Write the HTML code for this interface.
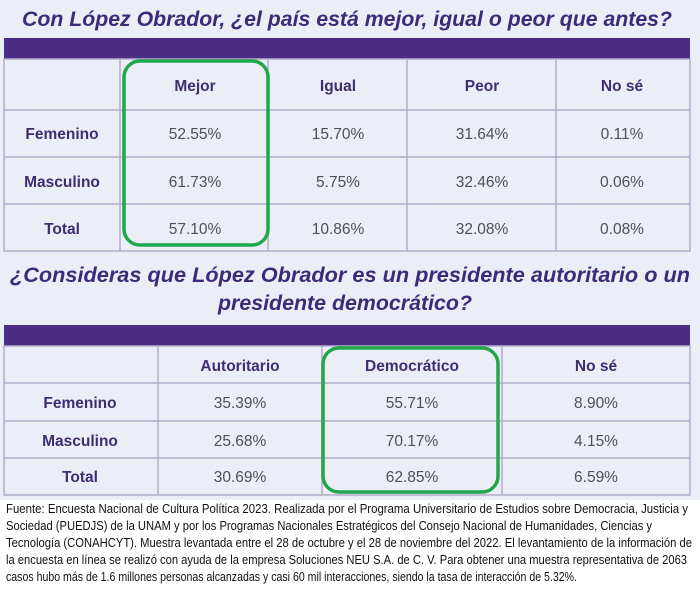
<!DOCTYPE html>
<html><head><meta charset="utf-8"><style>
html,body{margin:0;padding:0;background:#fff;}
svg{display:block;}
.t{font-family:"Liberation Sans",sans-serif;font-style:italic;font-weight:bold;fill:#3d2a78;font-size:21px;}
.h{font-family:"Liberation Sans",sans-serif;font-weight:bold;fill:#3f2d72;font-size:15.5px;text-anchor:middle;}
.v{font-family:"Liberation Sans",sans-serif;fill:#505050;font-size:15.5px;text-anchor:middle;}
.f{font-family:"Liberation Sans",sans-serif;fill:#111;font-size:12.5px;}
</style></head><body>
<svg width="700" height="593" viewBox="0 0 700 593" xmlns="http://www.w3.org/2000/svg">
<rect x="0" y="0" width="700" height="500" fill="#eceef7"/>
<rect x="0" y="500" width="700" height="93" fill="#fff"/>
<text class="t" x="22" y="26" textLength="650" lengthAdjust="spacingAndGlyphs">Con López Obrador, ¿el país está mejor, igual o peor que antes?</text>
<rect x="4" y="38" width="686" height="21" fill="#4b2d86"/>
<g stroke="#b3abc9" stroke-width="1.5" fill="none">
<rect x="4" y="59" width="686" height="192"/>
<line x1="4" y1="110" x2="690" y2="110"/><line x1="4" y1="157" x2="690" y2="157"/><line x1="4" y1="204" x2="690" y2="204"/>
<line x1="120" y1="59" x2="120" y2="251"/><line x1="268" y1="59" x2="268" y2="251"/><line x1="407" y1="59" x2="407" y2="251"/><line x1="556" y1="59" x2="556" y2="251"/>
</g>
<text class="h" x="195" y="91">Mejor</text><text class="h" x="338" y="91">Igual</text><text class="h" x="482" y="91">Peor</text><text class="h" x="622" y="91">No sé</text>
<text class="h" x="62" y="139">Femenino</text><text class="v" x="195" y="139">52.55%</text><text class="v" x="338" y="139">15.70%</text><text class="v" x="482" y="139">31.64%</text><text class="v" x="622" y="139">0.11%</text>
<text class="h" x="62" y="187">Masculino</text><text class="v" x="195" y="187">61.73%</text><text class="v" x="338" y="187">5.75%</text><text class="v" x="482" y="187">32.46%</text><text class="v" x="622" y="187">0.06%</text>
<text class="h" x="62" y="234">Total</text><text class="v" x="195" y="234">57.10%</text><text class="v" x="338" y="234">10.86%</text><text class="v" x="482" y="234">32.08%</text><text class="v" x="622" y="234">0.08%</text>
<rect x="124" y="61" width="144" height="184" rx="16" fill="none" stroke="#1fa84a" stroke-width="3.5"/>
<text class="t" x="10" y="282" textLength="680" lengthAdjust="spacingAndGlyphs">¿Consideras que López Obrador es un presidente autoritario o un</text>
<text class="t" x="218" y="310" textLength="254" lengthAdjust="spacingAndGlyphs">presidente democrático?</text>
<rect x="4" y="325" width="686" height="21" fill="#4b2d86"/>
<g stroke="#b3abc9" stroke-width="1.5" fill="none">
<rect x="4" y="346" width="686" height="149"/>
<line x1="4" y1="383" x2="690" y2="383"/><line x1="4" y1="421" x2="690" y2="421"/><line x1="4" y1="458" x2="690" y2="458"/>
<line x1="158" y1="346" x2="158" y2="495"/><line x1="322" y1="346" x2="322" y2="495"/><line x1="502" y1="346" x2="502" y2="495"/>
</g>
<text class="h" x="240" y="371">Autoritario</text><text class="h" x="412" y="371">Democrático</text><text class="h" x="596" y="371">No sé</text>
<text class="h" x="80" y="408">Femenino</text><text class="v" x="240" y="408">35.39%</text><text class="v" x="412" y="408">55.71%</text><text class="v" x="596" y="408">8.90%</text>
<text class="h" x="80" y="446">Masculino</text><text class="v" x="240" y="446">25.68%</text><text class="v" x="412" y="446">70.17%</text><text class="v" x="596" y="446">4.15%</text>
<text class="h" x="80" y="482">Total</text><text class="v" x="240" y="482">30.69%</text><text class="v" x="412" y="482">62.85%</text><text class="v" x="596" y="482">6.59%</text>
<rect x="323" y="348" width="175" height="144" rx="16" fill="none" stroke="#1fa84a" stroke-width="3.5"/>
<text class="f" x="6" y="513" textLength="682" lengthAdjust="spacingAndGlyphs">Fuente: Encuesta Nacional de Cultura Política 2023. Realizada por el Programa Universitario de Estudios sobre Democracia, Justicia y</text>
<text class="f" x="6" y="530" textLength="646" lengthAdjust="spacingAndGlyphs">Sociedad (PUEDJS) de la UNAM y por los Programas Nacionales Estratégicos del Consejo Nacional de Humanidades, Ciencias y</text>
<text class="f" x="6" y="547" textLength="686" lengthAdjust="spacingAndGlyphs">Tecnología  (CONAHCYT). Muestra levantada entre el 28 de octubre y el 28 de noviembre del 2022. El levantamiento de la información de</text>
<text class="f" x="6" y="564" textLength="681" lengthAdjust="spacingAndGlyphs">la encuesta en línea se realizó con ayuda de la empresa Soluciones NEU S.A. de C. V. Para obtener una muestra representativa de 2063</text>
<text class="f" x="6" y="581" textLength="571" lengthAdjust="spacingAndGlyphs">casos hubo más de 1.6 millones personas alcanzadas y casi 60 mil interacciones, siendo la tasa de interacción de 5.32%.</text>
</svg>
</body></html>
